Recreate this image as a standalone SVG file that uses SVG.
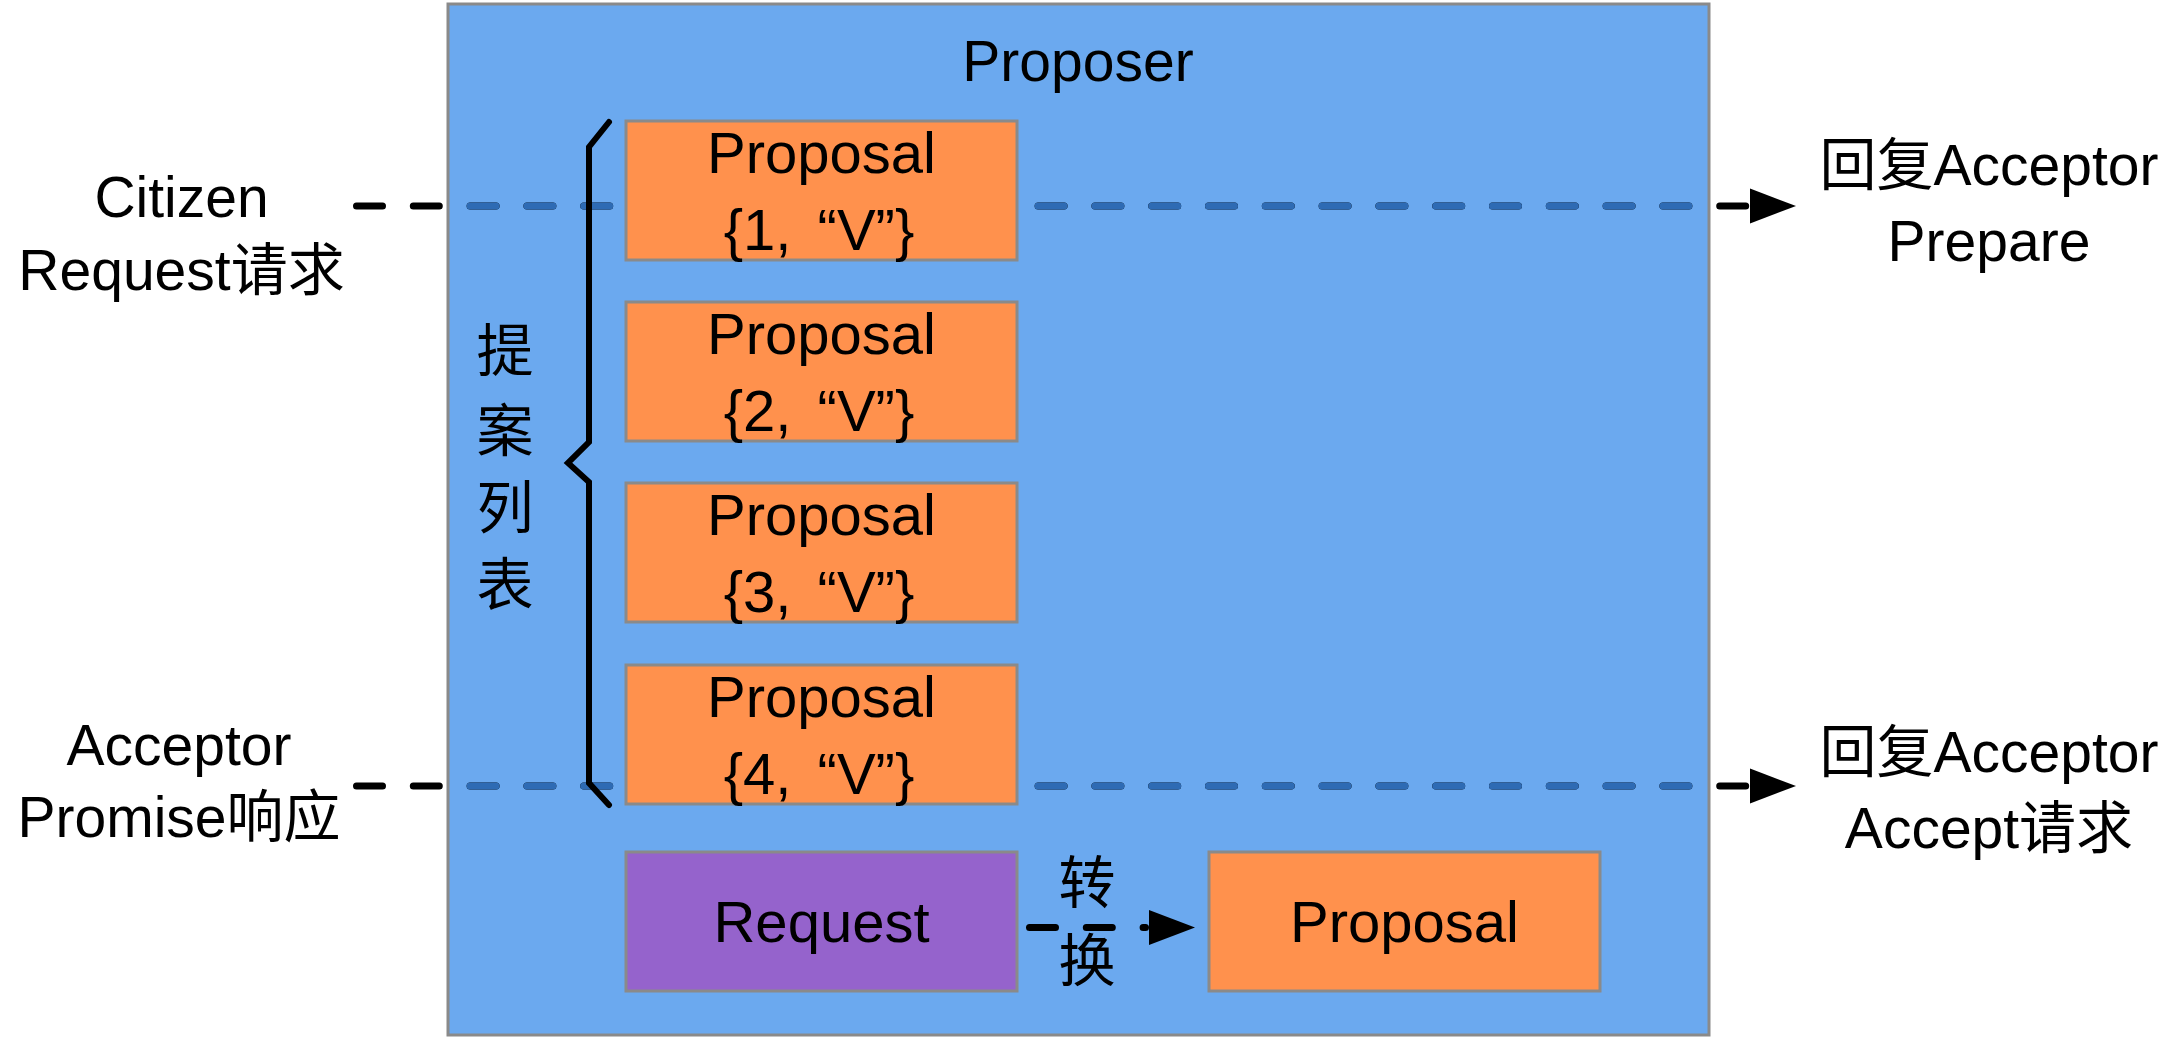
<svg xmlns="http://www.w3.org/2000/svg" width="2183" height="1038" viewBox="0 0 2183 1038">
<style>
text{font-family:"Liberation Sans","Noto Sans CJK SC",sans-serif;font-size:57px;fill:#000;text-anchor:middle}
text.bt{font-size:58px}
text.kv{font-size:58px;word-spacing:10px}
.box{stroke:#8a8a8a;stroke-width:3}
.prop{fill:#ff914d}
.req{fill:#9563cc}
.dash{fill:none;stroke-width:7;stroke-linecap:round;stroke-dasharray:26 30.8}
.blk{stroke:#000}
.blu{stroke:#2e6bb4}
</style>
<defs>
<marker id="ah" markerUnits="userSpaceOnUse" markerWidth="50" markerHeight="40" refX="-3.5" refY="17.5" orient="auto" overflow="visible">
<path d="M0,0 L46,17.5 L0,35 Z" fill="#000"/>
</marker>
<clipPath id="inside"><rect x="449.5" y="5.5" width="1258" height="1028"/></clipPath>
</defs>
<rect width="2183" height="1038" fill="#fff"/>
<g id="proposer">
<rect x="448" y="4" width="1261" height="1031" fill="#6ba9ef" stroke="#8a8a8a" stroke-width="3"/>
<text x="1078" y="81">Proposer</text>
</g>
<g id="connectors">
<path class="dash blk" d="M356.5,206 H1746.5" marker-end="url(#ah)"/>
<path class="dash blu" d="M356.5,206 H1746.5" clip-path="url(#inside)"/>
<path class="dash blk" d="M356.5,786 H1746.5" marker-end="url(#ah)"/>
<path class="dash blu" d="M356.5,786 H1746.5" clip-path="url(#inside)"/>
<path class="dash blk" d="M1029.5,927.5 H1145.5" marker-end="url(#ah)"/>
</g>
<g id="brace">
<path d="M609,122 L589,147 L589,442 L568,463 L589,482 L589,783 L609,805" fill="none" stroke="#000" stroke-width="6" stroke-linecap="round"/>
<text x="505"><tspan x="505" y="371">提</tspan><tspan x="505" y="451">案</tspan><tspan x="505" y="528">列</tspan><tspan x="505" y="605">表</tspan></text>
</g>
<g id="proposal1">
<rect class="box prop" x="626" y="121" width="391" height="139"/>
<text class="bt" x="821.5" y="173">Proposal</text>
<text class="kv" x="819" y="250">{1, “V”}</text>
</g>
<g id="proposal2">
<rect class="box prop" x="626" y="302" width="391" height="139"/>
<text class="bt" x="821.5" y="354">Proposal</text>
<text class="kv" x="819" y="431">{2, “V”}</text>
</g>
<g id="proposal3">
<rect class="box prop" x="626" y="483" width="391" height="139"/>
<text class="bt" x="821.5" y="535">Proposal</text>
<text class="kv" x="819" y="612">{3, “V”}</text>
</g>
<g id="proposal4">
<rect class="box prop" x="626" y="665" width="391" height="139"/>
<text class="bt" x="821.5" y="717">Proposal</text>
<text class="kv" x="819" y="794">{4, “V”}</text>
</g>
<g id="request">
<rect class="box req" x="626" y="852" width="391" height="139"/>
<text class="bt" x="821.5" y="942">Request</text>
</g>
<g id="proposal-new">
<rect class="box prop" x="1209" y="852" width="391" height="139"/>
<text class="bt" x="1404.5" y="942">Proposal</text>
</g>
<g id="convert-label">
<text x="1087" y="903">转</text>
<text x="1087" y="981">换</text>
</g>
<g id="citizen-request">
<text x="181.5" y="217">Citizen</text>
<text x="181.5" y="290">Request请求</text>
</g>
<g id="acceptor-promise">
<text x="179" y="765">Acceptor</text>
<text x="179" y="837">Promise响应</text>
</g>
<g id="reply-prepare">
<text x="1989" y="185">回复Acceptor</text>
<text x="1989" y="261">Prepare</text>
</g>
<g id="reply-accept">
<text x="1989" y="772">回复Acceptor</text>
<text x="1989" y="848">Accept请求</text>
</g>
</svg>
